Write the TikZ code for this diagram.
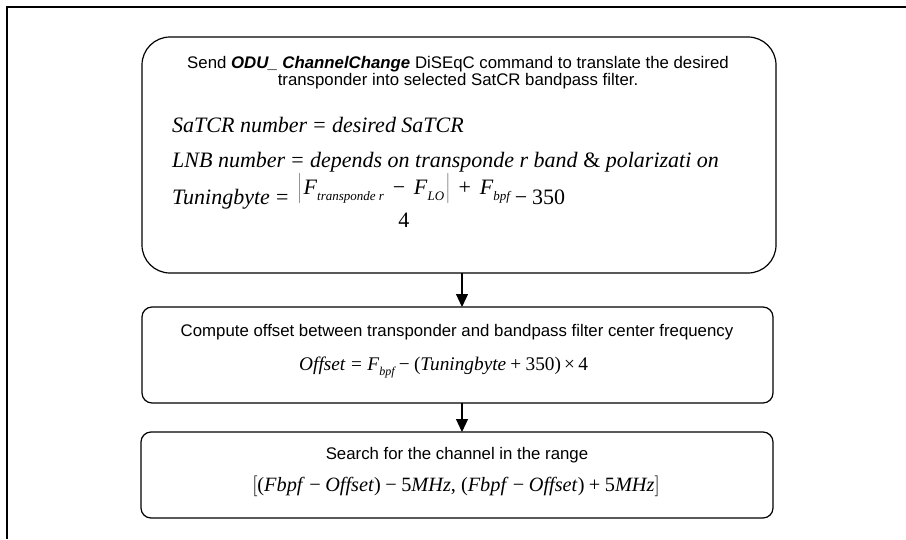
\documentclass[tikz,border=0pt]{standalone}
\usepackage{fontspec}
\setmainfont{Liberation Serif}
\newfontfamily\arialf{Liberation Sans}
\usetikzlibrary{arrows.meta}
\newcommand\sbx[1]{\raisebox{-0.28em}{\fontsize{13}{13}\selectfont\itshape #1}}
\newcommand\sbs[1]{\raisebox{-0.28em}{\fontsize{12}{12}\selectfont\itshape #1}}
\newcommand\mns{\hspace{0.22em}−\hspace{0.22em}}
\newcommand\pls{\hspace{0.22em}+\hspace{0.22em}}
\newcommand\wmns{\hspace{0.4em}−\hspace{0.4em}}
\newcommand\wpls{\hspace{0.4em}+\hspace{0.4em}}
\newcommand\eqs{\hspace{0.28em}=\hspace{0.28em}}
\newsavebox\numbox
\begin{document}
\begin{tikzpicture}[x=1pt,y=-1pt,
  box/.style={draw,line width=1.2pt,inner sep=0pt,outer sep=0pt},
  sans/.style={font=\arialf\fontsize{16.8}{19}\selectfont,anchor=base,inner sep=0pt},
  eq/.style={font=\fontsize{22}{26}\selectfont,anchor=base west,inner sep=0pt},
  eqo/.style={font=\fontsize{19.3}{24}\selectfont,anchor=base west,inner sep=0pt},
  eqr/.style={font=\fontsize{20.3}{24}\selectfont,anchor=base,inner sep=0pt},
  flow/.style={-{Triangle[length=13pt,width=12pt]},line width=1.2pt}]
\useasboundingbox (0,0) rectangle (906,539);
\fill[white] (0,0) rectangle (906,539);
\draw[line width=2.2pt] (7,539) -- (7,7) -- (906,7);
% boxes
\node[box,rounded corners=28pt,minimum width=634pt,minimum height=236pt] (b1) at (459,155) {};
\node[box,rounded corners=10pt,minimum width=631pt,minimum height=96pt] (b2) at (457.5,355) {};
\node[box,rounded corners=10pt,minimum width=632pt,minimum height=86pt] (b3) at (457,475) {};
\coordinate (ax) at (462,0);
\draw[flow] (b1.south -| ax) -- (b2.north -| ax);
\draw[flow] (b2.south -| ax) -- (b3.north -| ax);
% box 1 text
\node[sans] (t1) at (458,68) {Send \textbf{\textit{ODU\_ ChannelChange}} DiSEqC command to translate the desired};
\node[sans] (t2) at (458,85) {transponder into selected SatCR bandpass filter.};
\node[eq] (e1) at (172,132) {\textit{SaTCR number}\eqs\textit{desired SaTCR}};
\node[eq] (e2) at (172,167) {\textit{LNB number}\eqs\textit{depends on transponde r band} \& \textit{polarizati on}};
\node[eq] (e3) at (172,204) {\sbox\numbox{$\left|\hbox{\hspace{0.1em}\textit{F}\sbx{transponde r}\wmns\textit{F}\sbx{LO}\hspace{0.1em}}\right|$\wpls\textit{F}\sbx{bpf}}%
  \textit{Tuningbyte}\eqs\hspace{0.15em}\raisebox{10pt}{\usebox\numbox}\hspace{-\wd\numbox}\makebox[\wd\numbox]{\raisebox{-23pt}{4}}\mns350};
% box 2 text
\node[sans] (t3) at (457,336) {Compute offset between transponder and bandpass filter center frequency};
\node[eqo] (e4) at (299,370) {\textit{Offset}\eqs\textit{F}\sbs{bpf}\mns(\textit{Tuningbyte}\pls350)\,×\,4};
% box 3 text
\node[sans] (t4) at (457,459) {Search for the channel in the range};
\node[eqr] (e5) at (456,491) {$\big[$(\textit{Fbpf}\mns\textit{Offset})\mns5\textit{MHz}, (\textit{Fbpf}\mns\textit{Offset})\pls5\textit{MHz}$\big]$};
\end{tikzpicture}
\end{document}
